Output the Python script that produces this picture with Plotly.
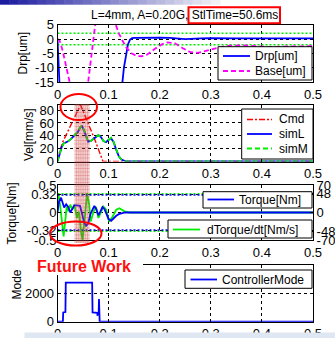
import plotly.graph_objects as go

W, H = 335, 338
def X(px): return px / W
def Y(py): return 1 - py / H

# ---------------- data ----------------
x_ticks = [0, 0.1, 0.2, 0.3, 0.4, 0.5]
x_ticktext = ["0", "0.1", "0.2", "0.3", "0.4", "0.5"]

# panel 1 : Drp / Base [um]
t_drp = [0, 0.002, 0.004, 0.01, 0.12, 0.1265, 0.13, 0.134, 0.138, 0.142, 0.146, 0.15, 0.17, 0.2,
         0.22, 0.25, 0.28, 0.3, 0.35, 0.4, 0.45, 0.5]
drp = [0, -8, -18, -40, -40, -16, -10, -5, -1.8, -0.2, 0.3, 0.4, 0.5, 0.5,
       0.4, 0.0, 0.2, 0.3, 0.2, 0.2, 0.1, 0.2]
t_base = [0, 0.004, 0.01, 0.02, 0.03, 0.045, 0.055, 0.06, 0.067, 0.073, 0.08, 0.095, 0.108, 0.114,
          0.12, 0.127, 0.135, 0.145, 0.155, 0.165, 0.175, 0.19, 0.205, 0.215, 0.23, 0.245, 0.26,
          0.275, 0.29, 0.31, 0.33, 0.36, 0.39, 0.42, 0.45, 0.48, 0.5]
base = [0, -0.5, -4, -12, -20, -26, -22, -15, -5, 5, 14, 18, 10, 5,
        2, -0.5, -3, -5, -5.9, -6, -5.5, -3.5, -1.8, -1.2, -1.5, -3.2, -4.6,
        -4.8, -4.2, -3.2, -2.4, -2.2, -2.6, -2.8, -2.6, -2.4, -2.5]
drp_tol = [2, -2]
y1_ticks = [5, 0, -5, -10, -15]
y1_ticktext = ["5", "0", "-5", "-10", "-15"]

# panel 2 : velocity [mm/s]
t_cmd = [0, 0.004, 0.01, 0.019, 0.028, 0.037, 0.045, 0.052, 0.06, 0.067, 0.075, 0.082, 0.089, 0.1, 0.2, 0.5]
cmd = [0, 15, 30, 45, 60, 75, 88, 75, 60, 45, 30, 15, 0, 0, 0, 0]
t_sim = [0, 0.004, 0.008, 0.012, 0.016, 0.02, 0.025, 0.03, 0.035, 0.04, 0.045, 0.048, 0.052,
         0.056, 0.06, 0.065, 0.07, 0.075, 0.08, 0.085, 0.09, 0.095, 0.1, 0.105, 0.11, 0.115,
         0.12, 0.125, 0.13, 0.135, 0.14, 0.5]
simL = [0, 10, 22, 28, 29, 31, 34, 38, 41, 46, 54, 55, 48,
        38, 31, 32, 35, 39, 41, 38, 32, 30, 34, 36, 30, 18,
        8, 3, 1, 0, 0, 0]
simM = [0, 10, 22, 28, 29, 31, 34, 38, 42, 47, 54, 56, 49,
        38, 31, 32, 35, 39, 41, 38, 32, 30, 34, 37, 30, 18,
        8, 3, 1, 0, 0, 0]
y2_ticks = [0, 20, 40, 60, 80]
y2_ticktext = ["0", "20", "40", "60", "80"]

# panel 3 : torque [Nm] and dTorque/dt [Nm/s]
t_trq = [0, 0.003, 0.007, 0.01, 0.013, 0.017, 0.021, 0.025, 0.029, 0.033, 0.038, 0.044, 0.048,
         0.052, 0.056, 0.06, 0.064, 0.068, 0.072, 0.076, 0.08, 0.084, 0.088, 0.092, 0.096,
         0.1, 0.105, 0.11, 0.115, 0.12, 0.126, 0.132, 0.14, 0.5]
torque = [0, 0.2, 0.27, 0.16, 0.09, 0.15, 0.1, 0.0, 0.06, 0.13, 0.13, 0.12, -0.02,
          -0.18, -0.24, -0.2, -0.04, 0.05, 0.12, 0.06, -0.05, 0.02, 0.1, 0.06, -0.02,
          -0.12, -0.15, -0.1, -0.06, -0.03, -0.01, 0.0, 0.0, 0.0]
t_dtrq = [0, 0.002, 0.005, 0.008, 0.012, 0.015, 0.018, 0.021, 0.025, 0.029, 0.033, 0.038, 0.042,
          0.046, 0.049, 0.052, 0.055, 0.058, 0.062, 0.065, 0.07, 0.075, 0.08, 0.085, 0.09,
          0.095, 0.101, 0.108, 0.115, 0.121, 0.131, 0.141, 0.5]
dtorque = [30, 45, 20, -14, -61, -23, 15, 3, 20, 7, 20, -14, 2,
           -48, -70, -31, 11, 49, 20, -23, 0, 15, -14, 3, 15,
           8, -23, -10, 7, 11, 3, 0, 0]
torque_lim = [0.32, -0.32]
dtorque_lim = [48, -48]
y3_ticks = [-0.5, -0.32, 0, 0.32, 0.5]
y3_ticktext = ["-0.5", "-0.32", "0", "0.32", "0.5"]
y5_ticks = [-70, -48, 0, 48, 70]
y5_ticktext = ["-70", "-48", "0", "48", "70"]

# panel 4 : controller mode (top tick label is hidden behind the "Future Work" note)
t_mode = [0, 0.0105, 0.0112, 0.0155, 0.0162, 0.0678, 0.0686, 0.0778, 0.0782, 0.0805, 0.0812, 0.0825, 0.5]
mode = [0, 0, 650, 680, 2750, 2750, 650, 620, 480, 520, 1600, 0, 0]
y4_ticks = [0, 2000, 4000]
y4_ticktext = ["0", "2000", ""]

# shaded time window (s)
shade_t = [0.033, 0.063]

# ---------------- figure ----------------
FONT = "Liberation Sans, Arial, sans-serif"
BLUE, MAG, GREEN, RED = "#0000ff", "#ff00ff", "#00ee00", "#ff0000"
LW = 1.8
DASH_BASE = "5px,3px"
DASH_CMD = "6px,2px,2px,2px"
DASH_SIMM = "5px,3px"

fig = go.Figure()

def hline(yv, xa, ya, color):
    fig.add_trace(go.Scatter(x=[0, 0.5], y=[yv, yv], mode="lines",
                             line=dict(color=color, width=1.5, dash="2px,2px"),
                             showlegend=False, hoverinfo="skip", xaxis=xa, yaxis=ya))

# panel 1
for v in drp_tol:
    hline(v, "x", "y", GREEN)
fig.add_trace(go.Scatter(x=t_drp, y=drp, mode="lines", name="Drp[um]", line=dict(color=BLUE, width=LW),
                         xaxis="x", yaxis="y"))
fig.add_trace(go.Scatter(x=t_base, y=base, mode="lines", name="Base[um]", line=dict(color=MAG, width=LW, dash=DASH_BASE),
                         xaxis="x", yaxis="y"))

# panel 2
fig.add_trace(go.Scatter(x=t_cmd, y=cmd, mode="lines", name="Cmd", line=dict(color=RED, width=1.4, dash=DASH_CMD),
                         xaxis="x2", yaxis="y2"))
fig.add_trace(go.Scatter(x=t_sim, y=simL, mode="lines", name="simL", line=dict(color=BLUE, width=LW),
                         xaxis="x2", yaxis="y2"))
fig.add_trace(go.Scatter(x=t_sim, y=simM, mode="lines", name="simM", line=dict(color=GREEN, width=LW, dash=DASH_SIMM),
                         xaxis="x2", yaxis="y2"))

# panel 3  (y3 = right dTorque axis, y5 = left Torque axis overlaid so Torque draws on top)
for v in dtorque_lim:
    hline(v, "x3", "y3", GREEN)
fig.add_trace(go.Scatter(x=t_dtrq, y=dtorque, mode="lines", name="dTorque/dt[Nm/s]", line=dict(color=GREEN, width=LW),
                         xaxis="x3", yaxis="y3"))
for v in torque_lim:
    hline(v, "x3", "y5", BLUE)
fig.add_trace(go.Scatter(x=t_trq, y=torque, mode="lines", name="Torque[Nm]", line=dict(color=BLUE, width=LW),
                         xaxis="x3", yaxis="y5"))

# panel 4
fig.add_trace(go.Scatter(x=t_mode, y=mode, mode="lines", name="ControllerMode", line=dict(color=BLUE, width=LW),
                         xaxis="x4", yaxis="y4"))

xdom = [X(57.5), X(313)]
doms = {
    1: [Y(82), Y(24.7)],
    2: [Y(161.5), Y(105)],
    3: [Y(240), Y(185)],
    4: [Y(321.7), Y(265)],
}
tickfont = dict(family=FONT, size=13, color="black")

def xax(anchor):
    return dict(domain=xdom, anchor=anchor, range=[0, 0.5], tickvals=x_ticks, ticktext=x_ticktext,
                showline=True, linecolor="black", linewidth=1, mirror=True, ticks="inside", ticklen=3,
                tickcolor="black", showgrid=True, gridcolor="black", griddash="3px,3px", gridwidth=1,
                zeroline=False, tickfont=tickfont, fixedrange=True)

def yax(anchor, dom, rng, tv, tt, mirror=True, grid=True, side="left"):
    return dict(domain=dom, anchor=anchor, range=rng, tickvals=tv, ticktext=tt, side=side,
                showline=True, linecolor="black", linewidth=1, mirror=mirror, ticks="inside", ticklen=3,
                tickcolor="black", showgrid=grid, gridcolor="black", griddash="3px,3px", gridwidth=1,
                zeroline=False, tickfont=tickfont, fixedrange=True)

fig.update_layout(
    width=W, height=H, margin=dict(l=0, r=0, t=0, b=0, autoexpand=False),
    paper_bgcolor="white", plot_bgcolor="white", showlegend=False,
    xaxis=xax("y"), yaxis=yax("x", doms[1], [-15, 5], y1_ticks, y1_ticktext),
    xaxis2=xax("y2"), yaxis2=yax("x2", doms[2], [0, 88], y2_ticks, y2_ticktext),
    xaxis3=xax("y3"),
    yaxis3=yax("x3", doms[3], [-70, 70], y5_ticks, y5_ticktext, grid=False, side="right"),
    yaxis5=dict(overlaying="y3", anchor="x3", side="left", range=[-0.5, 0.5], tickvals=y3_ticks,
                ticktext=y3_ticktext, showline=False, ticks="inside", ticklen=3, tickcolor="black",
                showgrid=True, gridcolor="black", griddash="3px,3px", gridwidth=1,
                zeroline=False, tickfont=tickfont, fixedrange=True),
    xaxis4=xax("y4"), yaxis4=yax("x4", doms[4], [0, 4000], y4_ticks, y4_ticktext),
)

shapes = []
ann = []

# manual boxed legends (MATLAB style)
def legend_box(x0, x1, y0, y1, entries, lx0, lx1, tx):
    shapes.append(dict(type="rect", xref="paper", yref="paper", x0=X(x0), x1=X(x1), y0=Y(y1), y1=Y(y0),
                       fillcolor="white", line=dict(color="black", width=1), layer="above"))
    for (py, label, color, dash, w) in entries:
        shapes.append(dict(type="line", xref="paper", yref="paper", x0=X(lx0), x1=X(lx1), y0=Y(py), y1=Y(py),
                           line=dict(color=color, width=w, dash=dash), layer="above"))
        ann.append(dict(text=label, x=X(tx), y=Y(py), xanchor="left", yanchor="middle",
                        font=dict(family=FONT, size=12, color="black")))

# top gradient bar
n = 24
for i in range(n):
    f = i / n
    r = int(28 + (250 - 28) * f)
    g = int(28 + (250 - 28) * f)
    b = int(160 + (250 - 160) * f)
    shapes.append(dict(type="rect", xref="paper", yref="paper", x0=X(i * 220 / n), x1=X((i + 1) * 220 / n + 0.5),
                       y0=Y(4.7), y1=Y(0), fillcolor=f"rgb({r},{g},{b})", line=dict(width=0), layer="above"))

legend_box(218, 312, 46.7, 80, [(56, "Drp[um]", BLUE, "solid", LW), (71, "Base[um]", MAG, DASH_BASE, LW)],
           223, 250, 253)
legend_box(241.7, 313, 109, 159, [(119.5, "Cmd", RED, DASH_CMD, 1.4), (134, "simL", BLUE, "solid", LW),
                                  (148.5, "simM", GREEN, DASH_SIMM, LW)], 247, 272, 277)
legend_box(203, 312, 191.7, 208, [(199.5, "Torque[Nm]", BLUE, "solid", LW)], 207.5, 234, 237)
legend_box(168, 312, 220, 238, [(229.5, "dTorque/dt[Nm/s]", GREEN, "solid", LW)], 173, 200, 205)
legend_box(185, 312, 270, 288.3, [(279.5, "ControllerMode", BLUE, "solid", LW)], 190.5, 217, 220)

# shaded time window (hatched)
shapes.append(dict(type="rect", xref="x2", yref="paper", x0=shade_t[0], x1=shade_t[1], y0=Y(243), y1=Y(104),
                   fillcolor="rgba(215,80,80,0.25)", line=dict(width=0), layer="above"))
py = 105.5
while py < 243:
    shapes.append(dict(type="line", xref="x2", yref="paper", x0=shade_t[0], x1=shade_t[1], y0=Y(py), y1=Y(py),
                       line=dict(color="rgba(200,60,60,0.25)", width=1), layer="above"))
    py += 3.5
for i in range(1, 7):
    tx = shade_t[0] + (shade_t[1] - shade_t[0]) * i / 7
    shapes.append(dict(type="line", xref="x2", yref="paper", x0=tx, x1=tx, y0=Y(243), y1=Y(104),
                       line=dict(color="rgba(200,60,60,0.25)", width=1), layer="above"))
# red ellipses
shapes.append(dict(type="circle", xref="paper", yref="paper", x0=X(60.5), x1=X(97), y0=Y(120), y1=Y(94),
                   line=dict(color=RED, width=2), layer="above"))
shapes.append(dict(type="circle", xref="paper", yref="paper", x0=X(50), x1=X(101.5), y0=Y(245.5), y1=Y(221.5),
                   line=dict(color=RED, width=2), layer="above"))
# title highlight box
shapes.append(dict(type="rect", xref="paper", yref="paper", x0=X(188.5), x1=X(280), y0=Y(23.3), y1=Y(7.3),
                   line=dict(color=RED, width=2), layer="above"))
# Future Work white box
shapes.append(dict(type="rect", xref="paper", yref="paper", x0=X(22), x1=X(143), y0=Y(275), y1=Y(257),
                   fillcolor="white", line=dict(width=0), layer="above"))
# bottom slide strip
shapes.append(dict(type="rect", xref="paper", yref="paper", x0=X(24.5), x1=X(336), y0=Y(339), y1=Y(332.5),
                   fillcolor="#dfe7f3", line=dict(width=0), layer="above"))
fig.update_layout(shapes=shapes)

ann += [
    dict(text="L=4mm, A=0.20G, StlTime=50.6ms", x=X(184.5), y=Y(14.8),
         font=dict(family=FONT, size=12, color="black")),
    dict(text="Drp[um]", x=X(23), y=Y(53.5), textangle=-90, font=dict(family=FONT, size=12, color="black")),
    dict(text="Vel[mm/s]", x=X(29), y=Y(135), textangle=-90, font=dict(family=FONT, size=12, color="black")),
    dict(text="Torque[Nm]", x=X(11.5), y=Y(214), textangle=-90, font=dict(family=FONT, size=12, color="black")),
    dict(text="Mode", x=X(16.5), y=Y(285), textangle=-90, font=dict(family=FONT, size=12, color="black")),
    dict(text="<b>Future Work</b>", x=X(84), y=Y(266), font=dict(family=FONT, size=16, color="#ff1010")),
]
for a in ann:
    a.update(xref="paper", yref="paper", showarrow=False)
    a.setdefault("xanchor", "center")
    a.setdefault("yanchor", "middle")
fig.update_layout(annotations=ann)

fig.write_html("out.html", config={"displayModeBar": False},
               post_script="document.body.style.margin='0';document.body.style.overflow='hidden';")
